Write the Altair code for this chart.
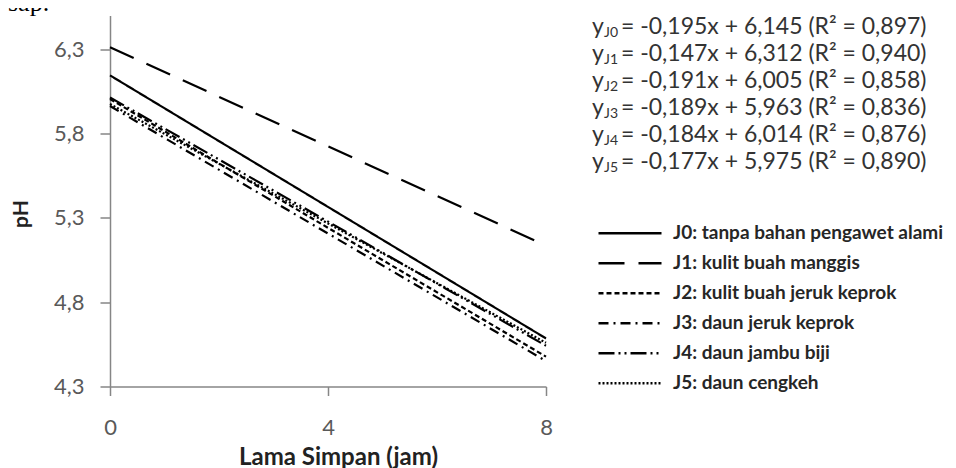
import altair as alt
import pandas as pd

# ---- data ----
series = ["J0", "J1", "J2", "J3", "J4", "J5"]
legend_labels = [
    "J0: tanpa bahan pengawet alami",
    "J1: kulit buah manggis",
    "J2: kulit buah jeruk keprok",
    "J3: daun jeruk keprok",
    "J4: daun jambu biji",
    "J5: daun cengkeh",
]
time_hours = [0, 8]
ph_at_start = [6.145, 6.312, 6.005, 5.963, 6.014, 5.975]
ph_at_end = [4.585, 5.136, 4.477, 4.451, 4.542, 4.559]

eq_slopes = ["-0,195", "-0,147", "-0,191", "-0,189", "-0,184", "-0,177"]
eq_intercepts = ["6,145", "6,312", "6,005", "5,963", "6,014", "5,975"]
eq_r2 = ["0,897", "0,940", "0,858", "0,836", "0,876", "0,890"]

x_ticks = [0, 4, 8]
y_ticks = [4.3, 4.8, 5.3, 5.8, 6.3]

rows = []
for s, lab, a, b in zip(series, legend_labels, ph_at_start, ph_at_end):
    rows.append({"series": s, "label": lab, "jam": time_hours[0], "pH": a})
    rows.append({"series": s, "label": lab, "jam": time_hours[1], "pH": b})
df = pd.DataFrame(rows)

dash_patterns = [[1, 0], [26, 14], [5, 3], [10, 5, 2, 5], [16, 4, 2, 4, 2, 4], [2, 2]]

FONT = "Lato"

lines = alt.Chart(df).mark_line(color="black", strokeWidth=2.2).encode(
    x=alt.X(
        "jam:Q",
        scale=alt.Scale(domain=[0, 8], nice=False, zero=False),
        axis=alt.Axis(
            values=x_ticks, title="Lama Simpan (jam)",
            titleFont=FONT, titleFontWeight="bold", titleFontSize=24, titleColor="#222222",
            titleX=228, titleY=78, titleAlign="center", titleBaseline="alphabetic",
            labelFont=FONT, labelFontSize=22, labelColor="#595959", labelPadding=22,
            labelFlush=False, labelOverlap=False,
            tickSize=9, tickColor="#868686", tickWidth=1.5,
            domainColor="#868686", domainWidth=1.5, grid=False,
        ),
    ),
    y=alt.Y(
        "pH:Q",
        scale=alt.Scale(domain=[4.3, 6.5], nice=False, zero=False),
        axis=alt.Axis(
            values=y_ticks, title="pH",
            labelExpr="replace(format(datum.value, '.1f'), '.', ',')",
            titleFont=FONT, titleFontWeight="bold", titleFontSize=21, titleColor="#222222",
            titleAngle=270, titleX=-89, titleY=198, titleAlign="center", titleBaseline="middle",
            labelFont=FONT, labelFontSize=22, labelColor="#595959", labelPadding=16,
            labelOverlap=False,
            tickSize=10, tickColor="#868686", tickWidth=1.5,
            domainColor="#868686", domainWidth=1.5, grid=False,
        ),
    ),
    strokeDash=alt.StrokeDash(
        "label:N",
        scale=alt.Scale(domain=legend_labels, range=dash_patterns),
        legend=alt.Legend(
            title=None, orient="none", legendX=487, legendY=203, direction="vertical",
            symbolType="stroke", symbolSize=3969, symbolStrokeWidth=2.5,
            symbolStrokeColor="black", clipHeight=29.5,
            labelFont=FONT, labelFontSize=19, labelFontWeight="bold", labelColor="#262626",
            labelOffset=10, labelLimit=400, rowPadding=0, padding=0,
        ),
    ),
    detail="series:N",
)

layers = [lines]

# equations (top right)
row_gap = 27
row0 = 11.5
for i, s in enumerate(series):
    yc = row0 + i * row_gap
    rest = f"= {eq_slopes[i]}x + {eq_intercepts[i]} (R\u00b2 = {eq_r2[i]})"
    parts = [
        ("y", 482, yc, 23),
        (s, 494, yc + 6, 14),
        (rest, 511, yc, 23),
    ]
    for txt, xx, yy, fs in parts:
        layers.append(
            alt.Chart(pd.DataFrame({"t": [txt]})).mark_text(
                align="left", baseline="middle", font=FONT, fontSize=fs, color="#333333"
            ).encode(x=alt.value(xx), y=alt.value(yy), text="t:N")
        )

# fragment of surrounding document text at top-left
layers.append(
    alt.Chart(pd.DataFrame({"t": ["sap."]})).mark_text(
        align="left", baseline="alphabetic", font="Liberation Serif", fontSize=26, color="black"
    ).encode(x=alt.value(-102), y=alt.value(-4.5), text="t:N")
)

chart = alt.layer(*layers).properties(
    width=436,
    height=371,
    autosize=alt.AutoSizeParams(type="none"),
    padding={"left": 102, "top": 7.5, "right": 402, "bottom": 81.5},
).configure_view(stroke=None)

chart.save("out.html", embed_options={"renderer": "svg", "actions": False})
